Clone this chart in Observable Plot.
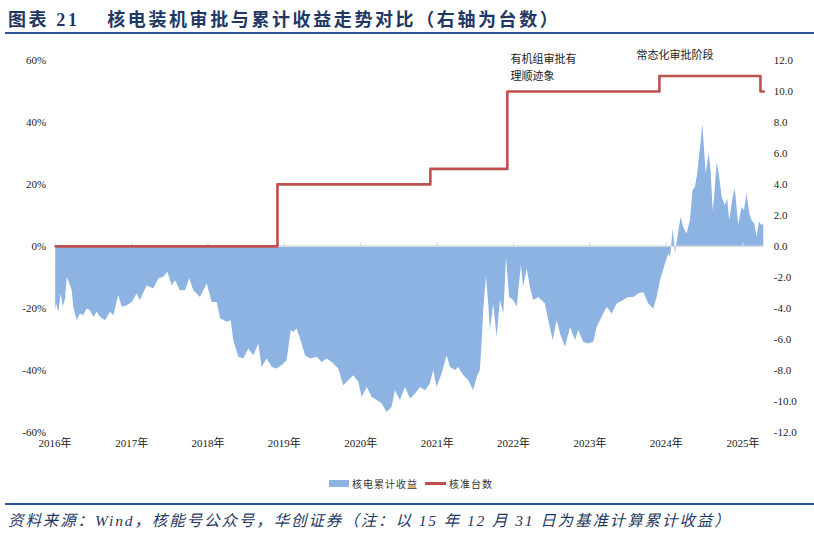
<!DOCTYPE html>
<html><head><meta charset="utf-8">
<script src="https://cdn.jsdelivr.net/npm/d3@7"></script>
<script src="https://cdn.jsdelivr.net/npm/@observablehq/plot@0.6"></script>
<style>
body{margin:0;background:#fff;}
#wrap{position:relative;width:814px;height:533px;overflow:hidden;font-family:"Liberation Serif","Noto Sans CJK SC",serif;}
#title{position:absolute;left:8px;top:5px;font-size:18px;font-weight:bold;color:#1f3864;letter-spacing:2.6px;white-space:nowrap;font-family:"Liberation Serif","Noto Sans CJK SC",serif;}
#topline{position:absolute;left:5px;right:0;top:32px;height:2px;background:#2f5597;}
#chart{position:absolute;left:0;top:40px;}
#legend{position:absolute;top:476px;left:0;width:814px;height:16px;font-size:10px;color:#333;font-family:"Noto Sans CJK SC",sans-serif;}
#botline{position:absolute;left:5px;right:0;top:503px;height:2px;background:#2f5597;}
#foot{position:absolute;left:8px;top:508px;font-size:15.5px;font-style:italic;color:#1f3864;letter-spacing:1.9px;white-space:nowrap;font-family:"Liberation Serif","Noto Sans CJK SC",serif;}
</style></head>
<body><div id="wrap">
<div id="title">图表 21　 核电装机审批与累计收益走势对比（右轴为台数）</div>
<div id="topline"></div>
<div id="chart"></div>
<div id="legend">
 <span style="position:absolute;left:329px;top:4px;width:20px;height:7px;background:#8db3e2;"></span>
 <span style="position:absolute;left:352px;top:0px;letter-spacing:1px;">核电累计收益</span>
 <span style="position:absolute;left:425px;top:6px;width:21px;height:2.5px;background:#c0504d;"></span>
 <span style="position:absolute;left:449px;top:0px;letter-spacing:1px;">核准台数</span>
</div>
<div id="botline"></div>
<div id="foot">资料来源：Wind，核能号公众号，华创证券（注：以 15 年 12 月 31 日为基准计算累计收益）</div>
</div>
<script>
// cumulative return of nuclear power index (%), base 2015-12-31
const retDates = ["2016-01-04","2016-01-08","2016-01-19","2016-01-30","2016-02-09","2016-02-20","2016-02-28","2016-03-11","2016-03-23","2016-03-30","2016-04-16","2016-05-01","2016-05-17","2016-06-02","2016-06-18","2016-07-04","2016-07-20","2016-08-05","2016-08-29","2016-09-22","2016-10-08","2016-10-31","2016-11-17","2016-12-11",
"2017-01-04","2017-01-27","2017-02-12","2017-03-16","2017-04-17","2017-05-11","2017-06-04","2017-06-23","2017-07-14","2017-07-30","2017-08-22","2017-09-15","2017-10-06","2017-10-25","2017-11-26","2017-12-28",
"2018-01-21","2018-02-14","2018-03-02","2018-04-03","2018-04-22","2018-05-04","2018-05-28","2018-06-21","2018-07-15","2018-08-08","2018-09-01","2018-09-17","2018-10-11","2018-11-04","2018-11-28","2018-12-22",
"2019-01-14","2019-02-03","2019-02-15","2019-03-03","2019-03-27","2019-04-12","2019-05-06","2019-06-07","2019-07-01","2019-07-25","2019-08-18","2019-09-18","2019-10-12","2019-11-05","2019-11-29","2019-12-23",
"2020-01-08","2020-02-01","2020-02-25","2020-03-20","2020-04-13","2020-05-06","2020-05-30","2020-06-15","2020-07-09","2020-08-02","2020-08-26","2020-09-19","2020-10-13","2020-11-06","2020-11-29","2020-12-15","2020-12-31",
"2021-01-24","2021-02-17","2021-03-05","2021-03-29","2021-04-14","2021-05-08","2021-06-01","2021-06-24","2021-07-11","2021-07-26","2021-08-04","2021-08-11","2021-08-24","2021-09-04","2021-09-12","2021-09-28","2021-10-14","2021-10-30","2021-11-15","2021-11-28","2021-12-13",
"2022-01-02","2022-01-18","2022-02-07","2022-02-18","2022-03-07","2022-03-22","2022-04-07","2022-05-01","2022-06-02","2022-06-18","2022-07-09","2022-07-28","2022-08-13","2022-09-06","2022-09-30","2022-10-24","2022-11-08","2022-12-02","2022-12-26",
"2023-01-19","2023-02-04","2023-02-20","2023-03-24","2023-04-17","2023-05-11","2023-06-11","2023-07-05","2023-07-29","2023-08-22","2023-09-15","2023-10-09","2023-11-02","2023-11-18","2023-12-04","2023-12-28",
"2024-01-13","2024-01-21","2024-02-03","2024-02-14","2024-02-25","2024-03-12","2024-03-24","2024-04-09","2024-04-25","2024-05-08","2024-05-19","2024-05-30","2024-06-09","2024-06-15","2024-06-23","2024-07-01","2024-07-09","2024-07-24","2024-08-02","2024-08-12","2024-08-19","2024-08-31","2024-09-12","2024-09-24","2024-10-09","2024-10-20","2024-10-30","2024-11-15","2024-11-26","2024-12-12","2024-12-28",
"2025-01-08","2025-01-21","2025-02-03","2025-02-14","2025-02-27","2025-03-10","2025-03-21","2025-04-03","2025-04-11"];
const retValues = [-20.8,-18.6,-21.3,-15.4,-19.7,-17.0,-10.0,-12.1,-14.3,-19.7,-24.0,-21.8,-22.4,-20.2,-20.8,-22.9,-21.3,-22.9,-24.0,-21.3,-22.4,-15.9,-19.7,-19.2,
-18.1,-15.4,-17.5,-12.7,-13.8,-10.5,-10.0,-8.4,-12.7,-11.1,-14.3,-14.3,-10.5,-14.3,-16.5,-12.1,
-18.1,-18.1,-23.4,-24.5,-24.0,-30.4,-35.8,-36.4,-33.1,-35.3,-31.5,-39.1,-36.4,-39.1,-39.6,-38.5,
-36.9,-27.2,-27.8,-26.7,-31.5,-35.3,-36.4,-35.8,-37.5,-36.4,-37.5,-39.6,-45.0,-43.4,-41.8,-43.9,
-48.8,-45.6,-48.8,-49.8,-50.9,-53.6,-52.0,-46.6,-49.8,-45.6,-49.3,-47.7,-45.6,-46.6,-44.4,-40.1,-45.6,
-41.2,-35.3,-39.1,-40.1,-39.1,-41.8,-43.4,-46.6,-42.3,-40.1,-30.4,-20.8,-10.0,-18.6,-27.2,-18.6,-29.4,-17.5,-21.8,-3.6,-16.5,
-17.5,-19.7,-6.2,-13.2,-7.3,-13.2,-17.5,-16.5,-18.6,-24.0,-30.4,-24.0,-28.3,-32.6,-26.2,-30.4,-27.2,-31.0,-31.5,
-31.0,-26.2,-24.0,-19.7,-21.8,-18.6,-17.5,-16.5,-16.5,-15.4,-14.9,-18.6,-20.2,-16.5,-11.1,-5.7,
-2.5,-3.6,5.6,-2.5,2.9,9.4,6.1,4.0,8.3,18.0,19.0,23.4,29.8,33.1,39.5,32.0,23.4,29.8,24.4,11.5,15.8,27.1,22.3,15.8,13.1,15.3,8.3,15.8,18.5,6.7,12.6,
11.5,16.9,10.5,8.3,7.2,2.9,7.8,6.7,7.2];

// approved nuclear units (right axis, 台)
const approvalDates = ["2016-01-04","2018-11-29","2020-11-29","2021-12-02","2023-11-29","2025-03-26","2025-04-11"];
const approvalCounts = [0,4,5,10,11,10,10];

const leftTicks = [-60,-40,-20,0,20,40,60];
const rightTicks = [-12,-10,-8,-6,-4,-2,0,2,4,6,8,10,12];
const years = [2016,2017,2018,2019,2020,2021,2022,2023,2024,2025];

const annotations = [
  {date:"2021-12-17", v:60.2, text:"有机组审批有"},
  {date:"2021-12-17", v:55.0, text:"理顺迹象"},
  {date:"2023-08-11", v:61.5, text:"常态化审批阶段"}
];

const parse = d3.utcParse("%Y-%m-%d");
const ret = retDates.map((d,i)=>({date:parse(d), v:retValues[i]}));
const appr = approvalDates.map((d,i)=>({date:parse(d), n:approvalCounts[i]}));
const ann = annotations.map(a=>({...a, date:parse(a.date)}));
const yearDates = years.map(y=>new Date(Date.UTC(y,0,1)));
const RATIO = 5; // 1 台 on right axis = 5% on left axis

const chart = Plot.plot({
  width: 814,
  height: 420,
  marginTop: 20,
  marginBottom: 28.3,
  marginLeft: 54.6,
  marginRight: 50.7,
  style: {fontFamily: '"Liberation Serif","Noto Sans CJK SC",serif', fontSize: "11px", color: "#222", background: "transparent"},
  x: {type: "utc", domain: [parse("2016-01-01"), parse("2025-04-11")], label: null},
  y: {domain: [-60, 60], label: null},
  marks: [
    Plot.areaY(ret, {x: "date", y: "v", fill: "#8db3e2", curve: "linear"}),
    Plot.ruleY([0], {stroke: "#d9d9d9", strokeWidth: 1.2}),
    Plot.ruleX(yearDates, {y1: 0, y2: 1.2, stroke: "#d9d9d9"}),
    Plot.line(appr, {x: "date", y: d => d.n * RATIO, curve: "step-after", stroke: "#c0504d", strokeWidth: 2.6}),
    Plot.axisY(leftTicks, {anchor: "left", label: null, tickSize: 0, tickPadding: 9, tickFormat: d => d + "%", fontSize: 11}),
    Plot.axisY(rightTicks.map(t => t * RATIO), {anchor: "right", label: null, tickSize: 0, tickPadding: 10, tickFormat: d => (d / RATIO).toFixed(1), fontSize: 11}),
    Plot.axisX(yearDates, {anchor: "bottom", label: null, tickSize: 0, tickPadding: 7, tickFormat: d => d.getUTCFullYear() + "年", fontSize: 11}),
    Plot.text(ann, {x: "date", y: "v", text: "text", textAnchor: "start", fontSize: 11, fill: "#222", fontFamily: '"Noto Sans CJK SC",sans-serif'})
  ]
});
document.getElementById("chart").appendChild(chart);
</script>
</body></html>
